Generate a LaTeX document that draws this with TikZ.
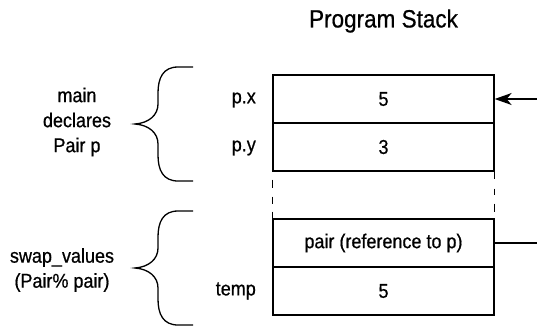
\documentclass[tikz,border=0pt]{standalone}
\usepackage{fontspec}
\setmainfont{Liberation Sans}[FakeStretch=0.9,FakeBold=0.6]
\usetikzlibrary{arrows.meta}
\begin{document}
\begin{tikzpicture}[x=1pt,y=-1pt,
  cell/.style={draw,line width=1.3pt,minimum width=221pt,minimum height=48pt,inner sep=0pt,font=\fontsize{20}{22}\selectfont},
  lbl/.style={font=\fontsize{20}{25}\selectfont,inner sep=0pt},
  brc/.style={line width=1.3pt,line cap=butt},
  conn/.style={line width=1.3pt}]
\useasboundingbox (0,0) rectangle (537,325);
\node[font=\fontsize{25}{28}\selectfont] (title) at (383.5,21) {Program Stack};
\node[cell] (px) at (383.5,99) {5};
\node[cell] (py) at (383.5,147) {3};
\node[cell] (pr) at (383.5,243) {pair (reference to p)};
\node[cell] (tp) at (383.5,291) {5};
\draw[line width=1.3pt,dash pattern=on 0pt off 8pt on 8pt off 9pt on 7pt off 8pt on 8pt] (py.south west) -- (pr.north west);
\draw[line width=1.3pt,dash pattern=on 7pt off 10pt on 6pt off 9pt on 8pt off 7pt on 8pt] (py.south east) -- (pr.north east);
\node[lbl,anchor=east] (lx) at (256,100) {p.x};
\node[lbl,anchor=east] (ly) at (256,148) {p.y};
\node[lbl,anchor=east] (lt) at (256,291) {temp};
\node[lbl,align=center] (mainlbl) at (77,122) {main\\declares\\Pair p};
\node[lbl,align=center] (swaplbl) at (62,270) {swap\_values\\(Pair\% pair)};
\foreach \dy in {0,144}{
  \draw[brc] (193,67+\dy) -- (178,67+\dy) .. controls (163,67+\dy) and (158,78+\dy) .. (158,93+\dy) -- (158,104+\dy) .. controls (158,115+\dy) and (149,123+\dy) .. (135,124+\dy)
    .. controls (149,125+\dy) and (158,133+\dy) .. (158,144+\dy) -- (158,155+\dy) .. controls (158,170+\dy) and (163,181+\dy) .. (178,181+\dy) -- (193,181+\dy);
}
\coordinate (a1) at (537,99);
\coordinate (a2) at (537,243);
\draw[conn,-{Stealth[length=17pt,width=12pt,inset=5pt]}] (a1) -- (px.east);
\draw[conn] (pr.east) -- (a2);
\end{tikzpicture}
\end{document}
